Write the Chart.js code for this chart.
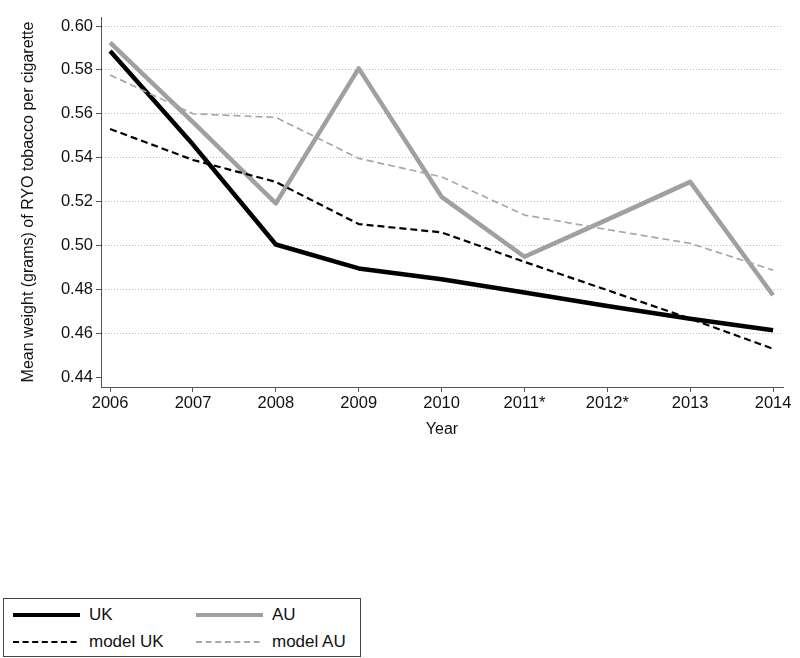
<!DOCTYPE html>
<html lang="en">
<head>
<meta charset="UTF-8">
<title>RYO tobacco weight per cigarette</title>
<script src="https://cdn.jsdelivr.net/npm/chart.js"></script>
<style>
    body { margin: 0; background: #fff; font-family: "Liberation Sans", Arial, sans-serif; }
    #wrap { position: absolute; left: 0; top: 0; width: 800px; height: 440px; }
    .legend {
        position: absolute; left: 3px; top: 598px; width: 358px; height: 59px;
        border: 1px solid #444; box-sizing: border-box;
    }
    .item { position: absolute; font-size: 17px; color: #111; line-height: 20px; }
    .item svg { position: absolute; left: 0; top: 0; }
    .item span { position: absolute; white-space: nowrap; }
</style>
</head>
<body>
<div id="wrap"><canvas id="ryoChart"></canvas></div>

<div class="legend" id="legend"></div>

<script>
    const years = [2006, 2007, 2008, 2009, 2010, 2011, 2012, 2013, 2014];
    const yearLabels = ['2006', '2007', '2008', '2009', '2010', '2011*', '2012*', '2013', '2014'];
    const yTicks = [0.44, 0.46, 0.48, 0.50, 0.52, 0.54, 0.56, 0.58, 0.60];

    const ukValues = [0.5886, 0.546, 0.5005, 0.4896, 0.4847, 0.4786, 0.4725, 0.4667, 0.4614];
    const auValues = [0.5924, 0.5562, 0.5192, 0.5807, 0.5222, 0.4949, 0.5118, 0.5290, 0.4774];
    const modelUkValues = [0.5531, 0.539, 0.5290, 0.5098, 0.5060, 0.4926, 0.4797, 0.4667, 0.4530];
    const modelAuValues = [0.5777, 0.5600, 0.5584, 0.5397, 0.5313, 0.5139, 0.5073, 0.5010, 0.4888];

    const pts = vals => years.map((y, i) => ({ x: y, y: vals[i] }));

    const series = [
        { label: 'UK', data: ukValues, color: '#000000', width: 4.5, dash: [] },
        { label: 'AU', data: auValues, color: '#a0a0a0', width: 4.5, dash: [] },
        { label: 'model UK', data: modelUkValues, color: '#000000', width: 2.2, dash: [7, 4] },
        { label: 'model AU', data: modelAuValues, color: '#a8a8a8', width: 1.7, dash: [7, 4] }
    ];

    const fontFam = '"Liberation Sans", Arial, sans-serif';

    const config = {
        type: 'line',
        data: {
            datasets: series.map(s => ({
                label: s.label,
                data: pts(s.data),
                borderColor: s.color,
                borderWidth: s.width,
                borderDash: s.dash,
                pointRadius: 0,
                fill: false,
                tension: 0,
                borderJoinStyle: 'round'
            })).reverse()
        },
        options: {
            responsive: false,
            animation: false,
            layout: { padding: { top: 17, right: 17, left: 0, bottom: 0 } },
            scales: {
                x: {
                    type: 'linear',
                    min: 2005.89,
                    max: 2014.12,
                    afterBuildTicks: scale => { scale.ticks = years.map(v => ({ value: v })); },
                    afterFit: scale => { scale.height = 53; },
                    ticks: {
                        padding: 2,
                        color: '#111',
                        font: { size: 16.5, family: fontFam },
                        callback: v => yearLabels[years.indexOf(v)]
                    },
                    grid: {
                        drawOnChartArea: false,
                        tickLength: 5,
                        tickColor: '#555',
                        tickWidth: 1
                    },
                    border: { color: '#555', width: 1 },
                    title: {
                        display: true,
                        text: 'Year',
                        color: '#111',
                        padding: { top: 2, bottom: 1 },
                        font: { size: 16, family: fontFam }
                    }
                },
                y: {
                    min: 0.4356,
                    max: 0.6041,
                    afterBuildTicks: scale => { scale.ticks = yTicks.map(v => ({ value: v })); },
                    afterFit: scale => { scale.width = 101; },
                    ticks: {
                        padding: 3,
                        color: '#111',
                        font: { size: 16.5, family: fontFam },
                        callback: v => v.toFixed(2)
                    },
                    grid: {
                        color: ctx => (ctx.tick && Math.abs(ctx.tick.value - 0.44) < 1e-6) ? 'rgba(0,0,0,0)' : '#bdbdbd',
                        lineWidth: 1,
                        tickLength: 5,
                        tickColor: '#555',
                        tickBorderDash: [],
                        tickWidth: 1
                    },
                    border: { color: '#555', width: 1, dash: [1, 2] },
                    title: {
                        display: true,
                        text: 'Mean weight (grams) of RYO tobacco per cigarette',
                        color: '#111',
                        padding: { top: 19, bottom: 0 },
                        font: { size: 16, family: fontFam }
                    }
                }
            },
            plugins: {
                legend: { display: false },
                tooltip: { enabled: false }
            }
        }
    };

    const canvas = document.getElementById('ryoChart');
    canvas.width = 800;
    canvas.height = 440;
    new Chart(canvas.getContext('2d'), config);

    // legend (two columns, two rows) drawn as html
    const legendPos = [
        { left: 9, top: 6 }, { left: 192, top: 6 },
        { left: 9, top: 33 }, { left: 192, top: 33 }
    ];
    const legend = document.getElementById('legend');
    series.forEach((s, i) => {
        const item = document.createElement('div');
        item.className = 'item';
        item.style.left = legendPos[i].left + 'px';
        item.style.top = legendPos[i].top + 'px';
        const dash = s.dash.length ? `stroke-dasharray="6 3.6"` : '';
        item.innerHTML =
            `<svg width="68" height="20"><line x1="0" y1="10" x2="67" y2="10" stroke="${s.color}" stroke-width="${s.width > 3 ? 4 : 2}" ${dash}/></svg>` +
            `<span style="left:76px">${s.label}</span>`;
        legend.appendChild(item);
    });
</script>
</body>
</html>
